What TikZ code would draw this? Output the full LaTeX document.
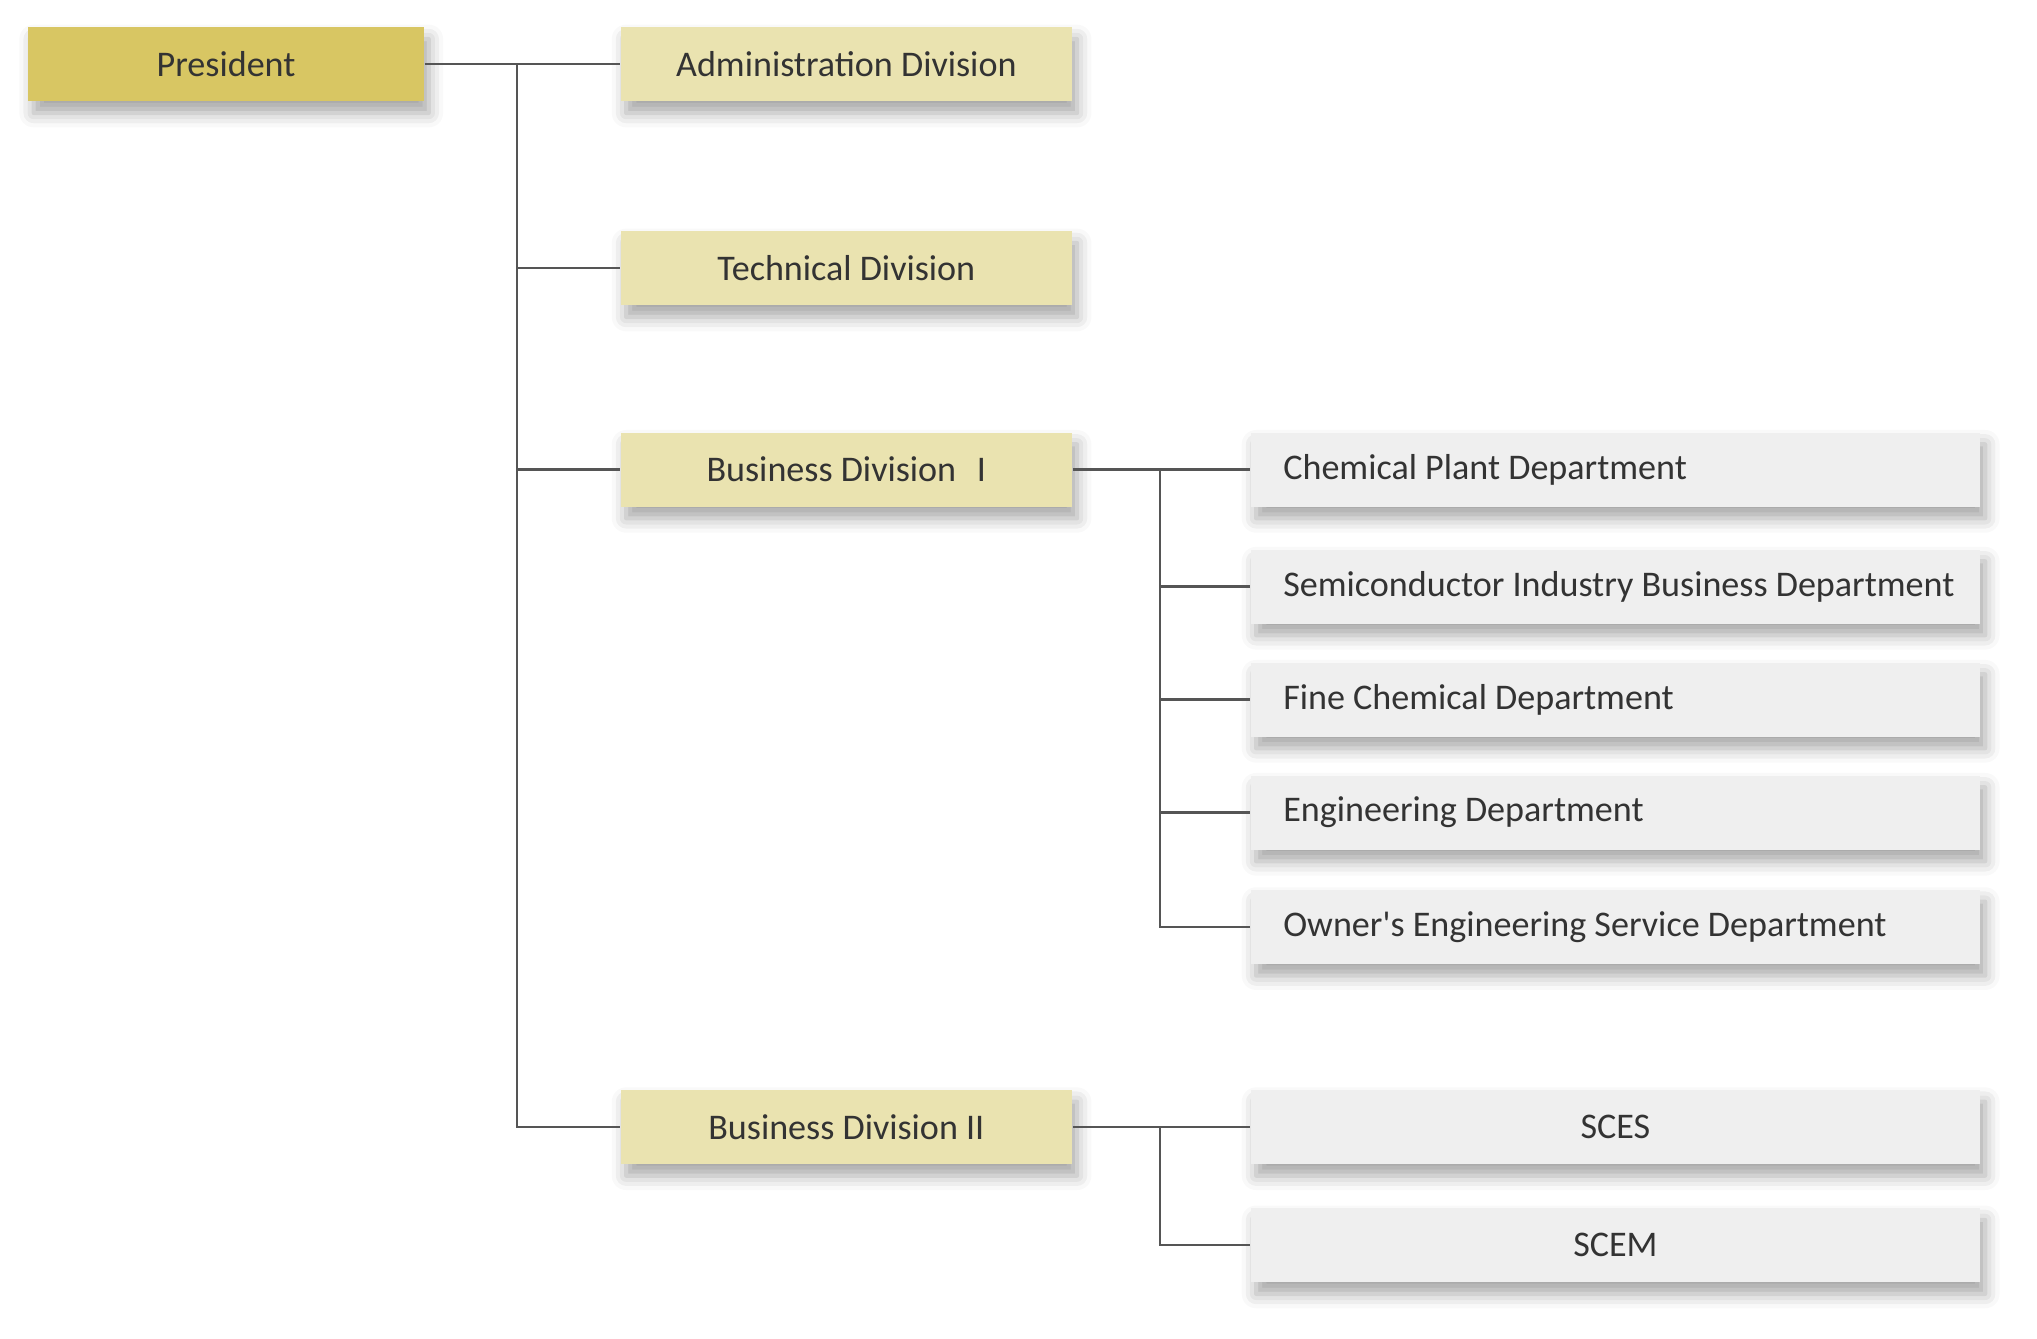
\documentclass[tikz,border=0pt]{standalone}
\usepackage{fontspec}
\setmainfont{Carlito}
\usetikzlibrary{positioning, shadows, shadows.blur, calc}

\definecolor{presgold}{HTML}{D8C663}
\definecolor{divbeige}{HTML}{EAE3B0}
\definecolor{deptgray}{HTML}{EFEFEF}
\definecolor{textgray}{HTML}{333333}
\definecolor{linegray}{HTML}{555555}

% left-set label inside a department box
\newcommand{\deptname}[1]{\makebox[5.11cm][l]{#1}}

\tikzset{
  box/.style={minimum height=0.57cm, inner sep=0pt, text=textgray,
    font=\fontsize{7.9}{9}\selectfont,
    blur shadow={shadow xshift=0.04cm, shadow yshift=-0.09cm,
      shadow blur radius=0.11cm, shadow opacity=35}},
  presbox/.style={box, fill=presgold, minimum width=3.04cm},
  divbox/.style={box, fill=divbeige, minimum width=3.47cm},
  deptbox/.style={box, fill=deptgray, minimum width=5.61cm},
  link/.style={draw=linegray, line width=0.5pt}
}

\begin{document}
\begin{tikzpicture}[x=0.01cm, y=-0.01cm]
  \useasboundingbox (0,0) rectangle (1568,1030);

  % Top
  \node[presbox] (pres) at (174,49.5) {President};

  % Divisions
  \node[divbox] (adm) at (651.5,49.5) {Administration Division};
  \node[divbox] (tech) at (651.5,206.5) {Technical Division};
  \node[divbox] (busA) at (651.5,361.5) {Business Division\hspace{0.35em} I};
  \node[divbox] (busB) at (651.5,867.5) {Business Division II};

  % Departments of Business Division I
  \node[deptbox] (chem) at (1243.5,361.5) {\deptname{Chemical Plant Department}};
  \node[deptbox] (semi) at (1243.5,451.5) {\deptname{Semiconductor Industry Business Department}};
  \node[deptbox] (fine) at (1243.5,538.5) {\deptname{Fine Chemical Department}};
  \node[deptbox] (eng) at (1243.5,625.5) {\deptname{Engineering Department}};
  \node[deptbox] (owner) at (1243.5,713.5) {\deptname{Owner\textquotesingle s Engineering Service Department}};

  % Units of Business Division II
  \node[deptbox] (sces) at (1243.5,867.5) {SCES};
  \node[deptbox] (scem) at (1243.5,958.5) {SCEM};

  % Connections
  \coordinate (trunk) at (398,49.5);
  \coordinate (branchA) at (893,361.5);
  \coordinate (branchB) at (893,867.5);

  \draw[link] (pres.east) -- (adm.west);
  \foreach \n in {tech, busA, busB}
    \draw[link] (trunk) |- (\n.west);

  \draw[link] (busA.east) -- (chem.west);
  \foreach \n in {semi, fine, eng, owner}
    \draw[link] (branchA) |- (\n.west);

  \draw[link] (busB.east) -- (sces.west);
  \draw[link] (branchB) |- (scem.west);
\end{tikzpicture}
\end{document}
